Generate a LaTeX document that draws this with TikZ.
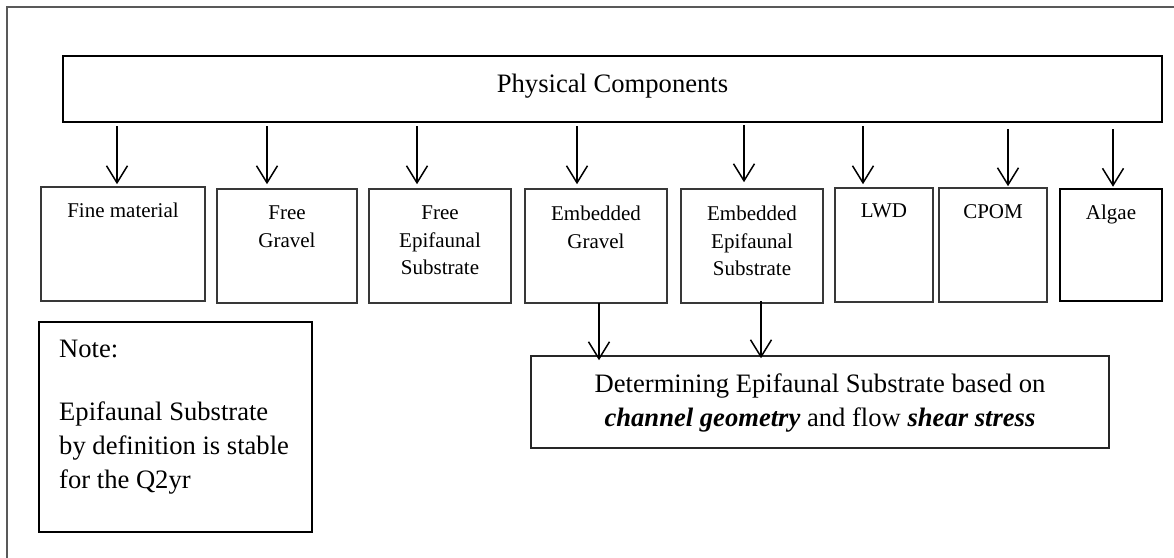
\documentclass[tikz,border=0pt]{standalone}
\usepackage{fontspec}
\setmainfont{Liberation Serif}
\usetikzlibrary{arrows.meta}
\begin{document}
\begin{tikzpicture}[x=1pt,y=-1pt,
  box/.style={draw=black!78, line width=1.6pt, inner sep=0pt},
  lbl/.style={anchor=north, inner sep=0pt, align=center, font=\fontsize{21}{27.5}\selectfont},
  big/.style={inner sep=0pt, font=\fontsize{26.6}{34}\selectfont},
  arr/.style={line width=1.5pt, -{Straight Barb[length=17pt,width=21pt,line width=1.5pt]}},
]
\useasboundingbox (0,0) rectangle (1174,557);
\fill[white] (0,0) rectangle (1174,557);
% outer frame (right and bottom sides fall outside the page)
\draw[line width=2pt, black!65] (7,575) -- (7,7) -- (1185,7);

% top box
\node[box, draw=black, line width=1.7pt, minimum width=1099pt, minimum height=66pt] (phys) at (612.5,89) {};
\node[big, anchor=base] (phys-t) at (612.5,92) {Physical Components};

% component boxes
\node[box, minimum width=164pt, minimum height=114pt] (fine)  at (123,244) {};
\node[box, minimum width=140pt, minimum height=114pt] (fgrav) at (287,246) {};
\node[box, minimum width=142pt, minimum height=114pt] (fepi)  at (440,246) {};
\node[box, minimum width=142pt, minimum height=114pt] (egrav) at (596,246) {};
\node[box, minimum width=142pt, minimum height=114pt] (eepi)  at (752,246) {};
\node[box, minimum width=98pt,  minimum height=114pt] (lwd)   at (884,245) {};
\node[box, minimum width=108pt, minimum height=114pt] (cpom)  at (993,245) {};
\node[box, draw=black, line width=2.5pt, minimum width=102pt, minimum height=112pt] (algae) at (1111,245) {};

\node[lbl] (fine-t)  at (123,203) {Fine material};
\node[lbl] (fgrav-t) at (287,206) {Free\\Gravel};
\node[lbl] (fepi-t)  at (440,206) {Free\\Epifaunal\\Substrate};
\node[lbl] (egrav-t) at (596,206) {Embedded\\Gravel};
\node[lbl] (eepi-t)  at (752,206) {Embedded\\Epifaunal\\Substrate};
\node[lbl] (lwd-t)   at (884,204) {LWD};
\node[lbl] (cpom-t)  at (993,204) {CPOM};
\node[lbl] (algae-t) at (1111,205) {Algae};

% note box
\node[box, draw=black, line width=2pt, minimum width=273pt, minimum height=210pt] (note) at (175.5,427) {};
\node[big, anchor=north west, align=left] (note-t) at (59,339.5)
  {Note:\\[29pt]Epifaunal Substrate\\by definition is stable\\for the Q2yr};

% determining box
\node[box, draw=black!85, minimum width=578pt, minimum height=92pt] (det) at (820,402) {};
\node[big, anchor=north, align=center] (det-t) at (820,374)
  {Determining Epifaunal Substrate based on\\\textbf{\textit{channel geometry}} and flow \textbf{\textit{shear stress}}};

% arrows from top box
\coordinate (s1) at (117,126);
\coordinate (s2) at (267,126);
\coordinate (s3) at (417,126);
\coordinate (s4) at (577,126);
\coordinate (s5) at (744,125);
\coordinate (s6) at (863,126);
\coordinate (s7) at (1008,129);
\coordinate (s8) at (1113,129);
\draw[arr] (s1) -- ([yshift=2pt]s1 |- fine.north);
\draw[arr] (s2) -- ([yshift=4pt]s2 |- fgrav.north);
\draw[arr] (s3) -- ([yshift=4pt]s3 |- fepi.north);
\draw[arr] (s4) -- ([yshift=4pt]s4 |- egrav.north);
\draw[arr] (s5) -- ([yshift=6pt]s5 |- eepi.north);
\draw[arr] (s6) -- ([yshift=3pt]s6 |- lwd.north);
\draw[arr] (s7) -- ([yshift=1pt]s7 |- cpom.north);
\draw[arr] (s8) -- ([yshift=1pt]s8 |- algae.north);

% arrows to determining box
\coordinate (s9) at (599,303);
\coordinate (s10) at (761,301);
\draw[arr] (s9) -- ([yshift=-5pt]s9 |- det.north);
\draw[arr] (s10) -- ([yshift=-3pt]s10 |- det.north);
\end{tikzpicture}
\end{document}
